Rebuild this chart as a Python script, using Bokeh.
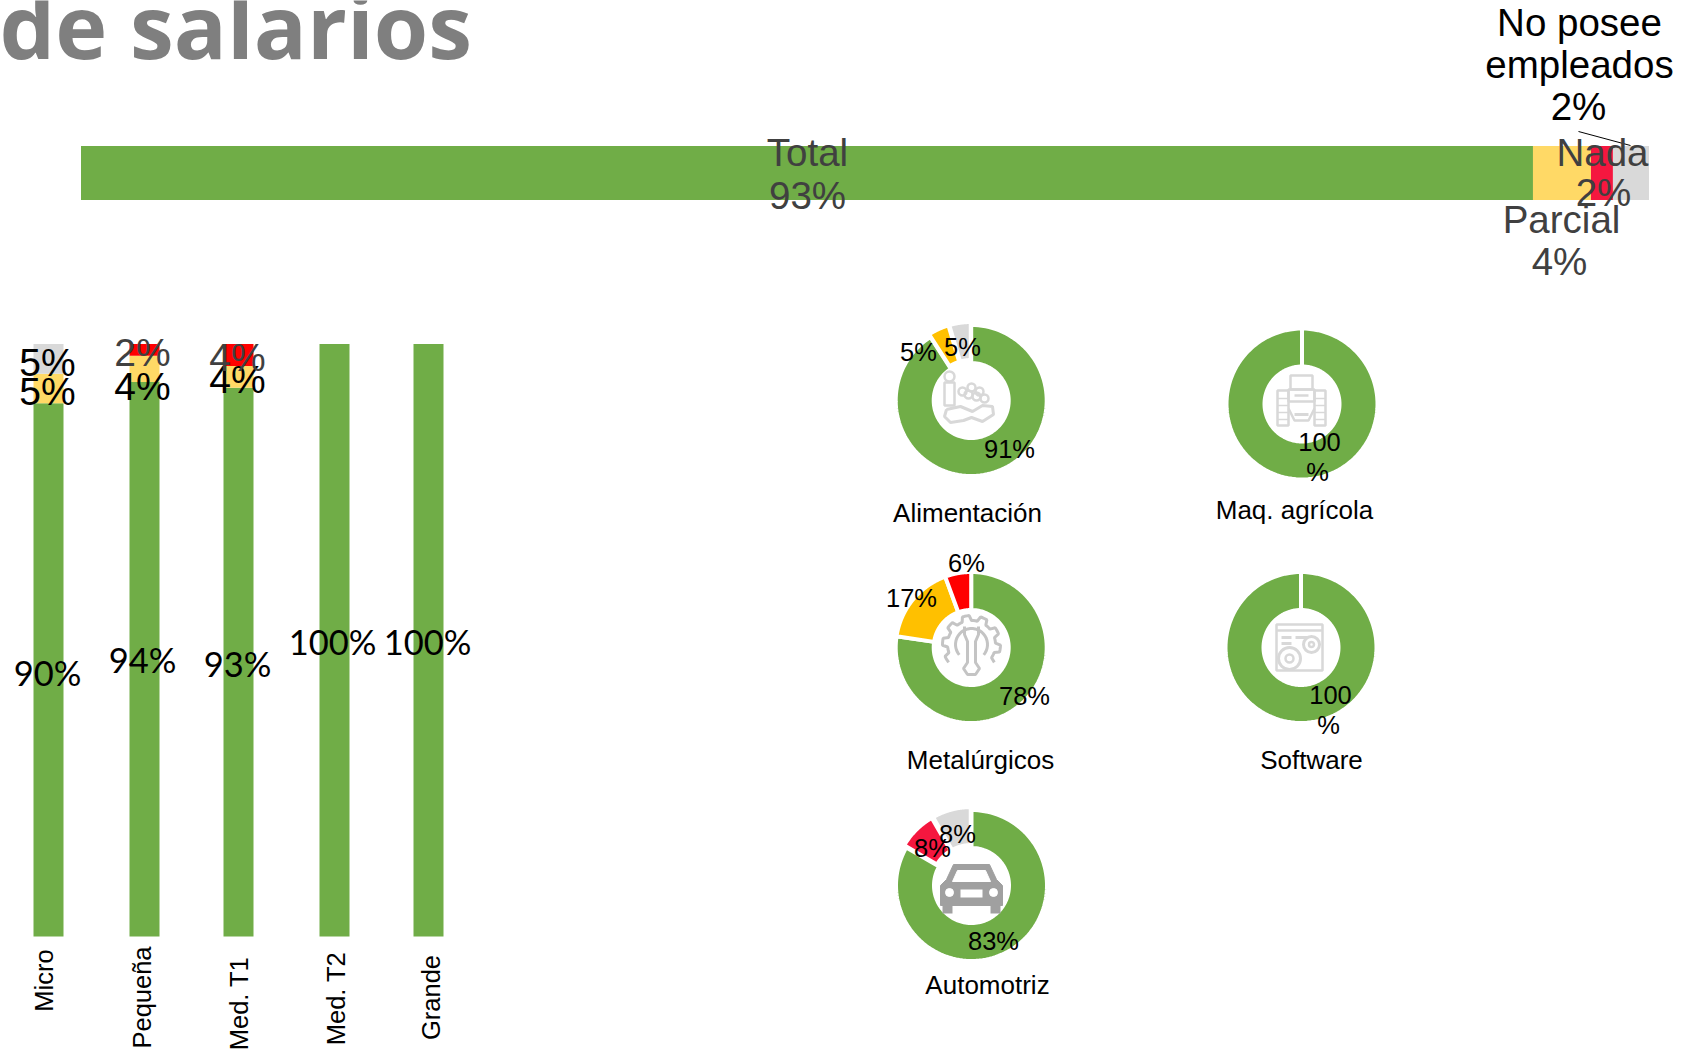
import numpy as np
from bokeh.plotting import figure
from bokeh.models import Range1d
from bokeh.core.properties import value
from bokeh.embed import file_html
from bokeh.resources import INLINE

# ---------- data ----------
total_names = ["Total", "Parcial", "Nada", "No posee empleados"]
total_values = [92.6, 3.7, 1.4, 2.3]
total_labels = ["93%", "4%", "2%", "2%"]

size_names = ["Micro", "Pequeña", "Med. T1", "Med. T2", "Grande"]
size_total = [90, 93.6, 92.6, 100, 100]
size_partial = [5, 4.4, 3.7, 0, 0]
size_none = [0, 2, 3.7, 0, 0]
size_noemp = [5, 0, 0, 0, 0]

sector_names = ["Alimentación", "Maq. agrícola", "Metalúrgicos", "Software", "Automotriz"]
sector_values = [[90.9, 4.5, 4.6], [100], [77.4, 17.0, 5.6], [100], [83.4, 8.3, 8.3]]

# ---------- page ----------
W, H = 1683, 1049
GREEN, YELLOW, CRIMSON, RED, GREY, AMBER = "#70AD47", "#FFD966", "#F5173F", "#FF0000", "#D9D9D9", "#FFC000"
SANS = value("Liberation Sans")
def Y(py):
    return H - py

p = figure(width=W, height=H, x_range=Range1d(0, W), y_range=Range1d(0, H),
           x_axis_type=None, y_axis_type=None, toolbar_location=None,
           output_backend="svg", min_border=0, outline_line_color=None,
           background_fill_color="white", styles={"position": "absolute", "left": "0px", "top": "0px"})
p.grid.visible = False

# scale of the 100% bar: 0..100 spans 80.5..1648.5 px
sx = (1648.5 - 80.5) / 100
p.extra_x_ranges["share"] = Range1d(-80.5 / sx, (W - 80.5) / sx)
# scale of the columns: 0..100 spans 936..343.5 px
sy = (936 - 343.5) / 100
p.extra_y_ranges["pct"] = Range1d(-Y(936) / sy, (H - Y(936)) / sy)

def label(items, size, color="#000000", font=SANS, **kw):
    xs, ys, ts = zip(*items)
    p.text(x=list(xs), y=[Y(v) for v in ys], text=list(ts), text_font=font,
           text_font_size=f"{size}px", text_color=color, text_align=kw.get("align", "center"),
           text_baseline="middle", angle=kw.get("angle", 0))

# title
p.text(x=[-1], y=[Y(24)], text=["de salarios"], text_font=value("Open Sans"), text_font_style="bold",
       text_font_size="88px", text_color="#7F7F7F", text_align="left", text_baseline="alphabetic")

# total bar
edges = np.cumsum([0] + total_values)
p.hbar(y=[Y(172.5)] * 4, height=54, left=edges[:-1], right=edges[1:], x_range_name="share",
       color=[GREEN, YELLOW, CRIMSON, GREY], line_color=None)
p.line([1578, 1630], [Y(131), Y(145)], line_color="#000000", line_width=1)
DARK = "#404040"
label([(807, 152, total_names[0]), (807, 195, total_labels[0]),
       (1561, 219, total_names[1]), (1559, 261, total_labels[1]),
       (1602, 152, total_names[2]), (1603, 192, total_labels[2])], 38.5, DARK)
label([(1579, 22, "No posee"), (1579, 64, "empleados"), (1578, 106, total_labels[3])], 38.5)

# columns by company size
col_x = [48, 144, 238, 334, 428]
b0 = np.zeros(5)
for vals, col in [(size_total, GREEN), (size_partial, YELLOW), (size_none, RED), (size_noemp, GREY)]:
    v = np.array(vals, float)
    p.vbar(x=col_x, width=30, bottom=b0, top=b0 + v, y_range_name="pct", color=col, line_color=None)
    b0 = b0 + v

label([(47, 672, "90%"), (142, 659, "94%"), (237, 663, "93%"), (332, 641, "100%"), (427, 641, "100%")],
      34.5, font=value("Lato"))
label([(47, 362, "5%"), (47, 391, "5%"), (142, 386, "4%"), (237, 379, "4%")], 39)
label([(142, 352, "2%"), (237, 357, "4%")], 39, DARK)
for nm, x, y in zip(size_names, [43, 141, 238, 335, 430], [980, 997, 1003, 998, 997]):
    label([(x, y, nm)], 25.5, angle=np.pi / 2)

# donuts
def wedge(cx, cy, ro, ri, a0, a1, boom):
    t = np.linspace(a0, a1, 120)
    m = (a0 + a1) / 2
    dx, dy = boom * np.sin(m), boom * np.cos(m)
    px = np.r_[cx + dx + ro * np.sin(t), cx + dx + ri * np.sin(t[::-1])]
    py = np.r_[Y(cy) + dy + ro * np.cos(t), Y(cy) + dy + ri * np.cos(t[::-1])]
    return px.tolist(), py.tolist()

centres = [(970.7, 400), (1301.5, 403.5), (970.7, 647), (1300.5, 647), (971, 885)]
colours = [[GREEN, AMBER, GREY], [GREEN], [GREEN, AMBER, RED], [GREEN], [GREEN, CRIMSON, GREY]]
booms = [[0, 3, 3], [0], [0, 0, 0], [0], [0, 3, 3]]
for (cx, cy), vals, cols, bm in zip(centres, sector_values, colours, booms):
    frac = np.cumsum([0] + vals) / sum(vals) * 2 * np.pi
    xs, ys = [], []
    for i in range(len(vals)):
        a, b = wedge(cx, cy, 75.5, 37.5, frac[i], frac[i + 1], bm[i])
        xs.append(a); ys.append(b)
    p.patches(xs, ys, fill_color=cols, line_color="white", line_width=4)

label([(1009, 448, "91%"), (918, 351, "5%"), (962, 346, "5%"),
       (1319, 441, "100"), (1317, 471, "%"),
       (966, 562, "6%"), (911, 597, "17%"), (1024, 695, "78%"),
       (1330, 694, "100"), (1328, 724, "%"),
       (993, 940, "83%"), (932, 847, "8%"), (957, 833, "8%")], 25.5)
label([(967, 512, sector_names[0]), (1294, 509, sector_names[1]), (980, 759, sector_names[2]),
       (1311, 759, sector_names[3]), (987, 984, sector_names[4])], 26)

# ---------- centre icons (decorative) ----------
def L(cx, cy, pts, color, w=2.5):
    p.line([cx + a for a, _ in pts], [Y(cy + b) for _, b in pts], line_color=color, line_width=w)
def ring(cx, cy, r, color, w=2.5):
    p.circle(x=[cx], y=[Y(cy)], radius=r, fill_color=None, line_color=color, line_width=w)
def box(cx, cy, x0, y0, x1, y1, color, w=2.5, fill=None):
    p.quad(left=[cx + x0], right=[cx + x1], top=[Y(cy + y0)], bottom=[Y(cy + y1)],
           fill_color=fill, line_color=color, line_width=w)
ICON = "#D8D8D8"

# car
cx, cy = 971, 887
C = "#A0A0A0"
p.patch([cx + a for a in [-31, -25, -18, 18, 25, 31, 31, -31]],
        [Y(cy + b) for b in [-2, -8, -23, -23, -8, -2, 18, 18]], color=C)
box(cx, cy, -29, 14, -19, 26, None, fill=C)
box(cx, cy, 19, 14, 29, 26, None, fill=C)
p.patch([cx + a for a in [-19, -14, 14, 19]], [Y(cy + b) for b in [-6, -17, -17, -6]], color="white")
box(cx, cy, -11, 2, 11, 10, None, fill="white")
p.circle(x=[cx - 22, cx + 22], y=[Y(cy + 5)] * 2, radius=4, color="white")

# gear with wrench
cx, cy = 971, 644
G = "#C4C4C4"
t = np.linspace(np.radians(-128), np.radians(128), 57)
rr = np.where(np.floor((t - t[0]) / (t[-1] - t[0]) * 14).astype(int) % 2 == 0, 29, 24)
L(cx, cy, list(zip(rr * np.sin(t), -rr * np.cos(t))), G, 3)
L(cx, cy, [(-7, -18), (-7, -10), (-4, -3), (-4, 18), (-8, 24), (-4, 30), (4, 30), (8, 24), (4, 18), (4, -3), (7, -10), (7, -18)], G, 3)
t2 = np.linspace(np.radians(-130), np.radians(130), 30)
L(cx, cy, list(zip(16 * np.sin(t2), -16 * np.cos(t2))), G, 3)

# software window
cx, cy = 1299, 647
box(cx, cy, -23, -23, 23, 23, ICON, 2.5)
L(cx, cy, [(-23, -17), (23, -17)], ICON)
L(cx, cy, [(-18, -10), (-8, -10)], ICON, 3)
L(cx, cy, [(-4, -10), (8, -10)], ICON, 3)
L(cx, cy, [(-18, -4), (-8, -4)], ICON, 3)
ring(cx - 10, cy + 11, 11, ICON, 3); ring(cx - 10, cy + 11, 4, ICON)
ring(cx + 12, cy - 3, 8, ICON, 3); ring(cx + 12, cy - 3, 2.5, ICON)

# tractor
cx, cy = 1301, 400
box(cx, cy, -11, -25, 11, -11, ICON)
box(cx, cy, -13, -11, 13, 1, ICON)
for sgn in (-1, 1):
    box(cx, cy, min(sgn * 13, sgn * 24), -10, max(sgn * 13, sgn * 24), 25, ICON, 2.5)
    for d in (-2, 5, 12, 19):
        L(cx, cy, [(sgn * 13, d), (sgn * 24, d)], ICON, 1.5)
L(cx, cy, [(-13, 8), (-7, 20), (7, 20), (13, 8)], ICON)
L(cx, cy, [(-7, 14), (7, 14)], ICON, 3)
L(cx, cy, [(-7, -5), (7, -5)], ICON)

# food
cx, cy = 968, 397
ring(cx - 19, cy - 21, 5, ICON)
box(cx, cy, -24, -15, -14, 8, ICON)
for a, b in [(-6, -6), (3, -10), (11, -6), (0, -3), (8, -1), (16, 1)]:
    ring(cx + a, cy + b, 4, ICON)
L(cx, cy, [(-22, 12), (-24, 19), (-18, 25), (-5, 23), (3, 20), (14, 24), (25, 17), (24, 9), (14, 8), (4, 14), (-8, 9), (-22, 12)], ICON, 3)

open("out.html", "w").write(file_html(p, INLINE))
